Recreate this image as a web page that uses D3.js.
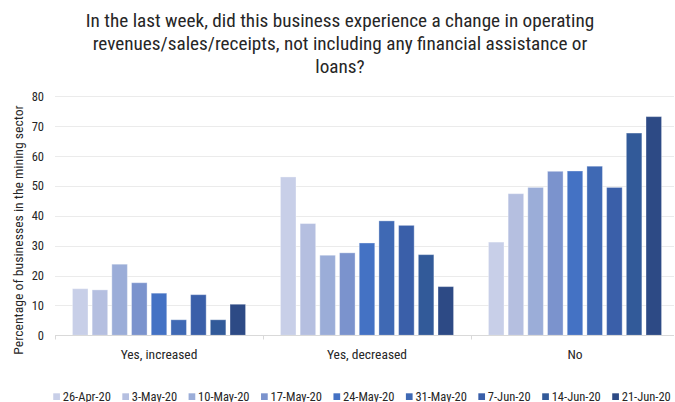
<!DOCTYPE html>
<html>
<head>
<meta charset="utf-8">
<script src="https://cdn.jsdelivr.net/npm/d3@7"></script>
<style>
  body { margin: 0; background: #fff; }
  text { font-family: 'Roboto Condensed', 'Liberation Sans Narrow', Roboto, sans-serif; fill: #262626; }
</style>
</head>
<body>
<div id="chart"></div>
<script>
// Data
const categories = ['Yes, increased', 'Yes, decreased', 'No'];
const weeks = ['26-Apr-20', '3-May-20', '10-May-20', '17-May-20', '24-May-20',
  '31-May-20', '7-Jun-20', '14-Jun-20', '21-Jun-20'];
const yesIncreased = [15.6, 15.2, 23.8, 17.6, 14.1, 5.2, 13.6, 5.2, 10.4];
const yesDecreased = [53.0, 37.4, 26.8, 27.6, 30.9, 38.3, 36.8, 27.0, 16.3];
const no = [31.2, 47.4, 49.5, 54.9, 55.0, 56.6, 49.5, 67.7, 73.2];
const yTicks = [0, 10, 20, 30, 40, 50, 60, 70, 80];
const titleLines = [
  'In the last week, did this business experience a change in operating',
  'revenues/sales/receipts, not including any financial assistance or',
  'loans?'
];
const yTitle = 'Percentage of businesses in the mining sector';

const colors = ['#c8cfe8', '#b5bfe0', '#9badd8', '#7b93cd', '#4472c4',
  '#3f69b4', '#3a5fa9', '#325a99', '#2d4a85'];

const seriesByCat = [yesIncreased, yesDecreased, no];
const rows = categories.map((c, i) => ({
  cat: c,
  vals: weeks.map((w, j) => ({ week: w, value: seriesByCat[i][j] }))
}));

// Dimensions
const WIDTH = 675;
const HEIGHT = 402;
const PLOT = { LEFT: 55, RIGHT: 679, TOP: 96.3, BOTTOM: 335.3 };

const svg = d3.select('#chart').append('svg')
  .attr('width', WIDTH)
  .attr('height', HEIGHT);

// Scales
const x0 = d3.scaleBand().domain(categories).range([PLOT.LEFT, PLOT.RIGHT]);
const x1 = d3.scaleBand().domain(weeks).range([0, x0.bandwidth()])
  .paddingInner(0.21).paddingOuter(0.885);
const y = d3.scaleLinear().domain([0, 80]).range([PLOT.BOTTOM, PLOT.TOP]);

// Gridlines
svg.append('g')
  .selectAll('line')
  .data(yTicks.slice(1))
  .join('line')
  .attr('x1', PLOT.LEFT).attr('x2', 674)
  .attr('y1', (d) => Math.round(y(d)) + 0.5).attr('y2', (d) => Math.round(y(d)) + 0.5)
  .attr('stroke', '#ebebeb');

// Y axis labels
const yAxis = svg.append('g')
  .attr('transform', `translate(${PLOT.LEFT},0)`)
  .call(d3.axisLeft(y).tickValues(yTicks).tickSize(0).tickPadding(11));
yAxis.select('.domain').remove();
yAxis.selectAll('text')
  .style('font-size', '12.5px')
  .attr('fill', '#262626');

// Bars
const groups = svg.append('g')
  .selectAll('g')
  .data(rows)
  .join('g')
  .attr('transform', (d) => `translate(${x0(d.cat)},0)`);

groups.selectAll('rect')
  .data((d) => d.vals)
  .join('rect')
  .attr('x', (d) => x1(d.week))
  .attr('y', (d) => y(d.value))
  .attr('width', x1.bandwidth())
  .attr('height', (d) => y(0) - y(d.value))
  .attr('fill', (d, i) => colors[i])
  .attr('stroke', '#ffffff')
  .attr('stroke-opacity', 0.35)
  .attr('stroke-width', 1);

// X axis
const xAxis = svg.append('g')
  .attr('transform', `translate(0,${Math.round(PLOT.BOTTOM) + 0.5})`)
  .call(d3.axisBottom(x0).tickSize(0).tickPadding(14));
xAxis.select('.domain')
  .attr('d', `M${PLOT.LEFT},0H674`)
  .attr('stroke', '#d9d9d9');
xAxis.selectAll('text')
  .style('font-size', '13.5px')
  .attr('fill', '#262626');
svg.append('g')
  .selectAll('line')
  .data(categories)
  .join('line')
  .attr('x1', (d) => Math.round(x0(d)) + 0.5)
  .attr('x2', (d) => Math.round(x0(d)) + 0.5)
  .attr('y1', Math.round(PLOT.BOTTOM) + 0.5)
  .attr('y2', Math.round(PLOT.BOTTOM) + 4.5)
  .attr('stroke', '#d9d9d9');

// Y title
svg.append('text')
  .attr('transform', 'translate(22.5,230) rotate(-90)')
  .attr('text-anchor', 'middle')
  .style('font-size', '13.7px')
  .text(yTitle);

// Title
svg.append('g')
  .selectAll('text')
  .data(titleLines)
  .join('text')
  .attr('x', 340)
  .attr('y', (d, i) => 27.3 + i * 23)
  .attr('text-anchor', 'middle')
  .style('font-size', '19.2px')
  .text((d) => d);

// Legend
const legend = svg.append('g');
const items = legend.selectAll('g')
  .data(weeks)
  .join('g');
items.append('rect')
  .attr('y', 393.3)
  .attr('width', 6.7)
  .attr('height', 6.7)
  .attr('fill', (d, i) => colors[i]);
items.append('text')
  .attr('x', 9.5)
  .attr('y', 400.5)
  .style('font-size', '12.5px')
  .text((d) => d);
let cursor = 0;
items.each(function () {
  const w = d3.select(this).select('text').node().getComputedTextLength();
  d3.select(this).attr('transform', `translate(${cursor},0)`);
  cursor += 9.5 + w + 11.5;
});
const total = cursor - 11.5;
legend.attr('transform', `translate(${362 - total / 2},0)`);
</script>
</body>
</html>
